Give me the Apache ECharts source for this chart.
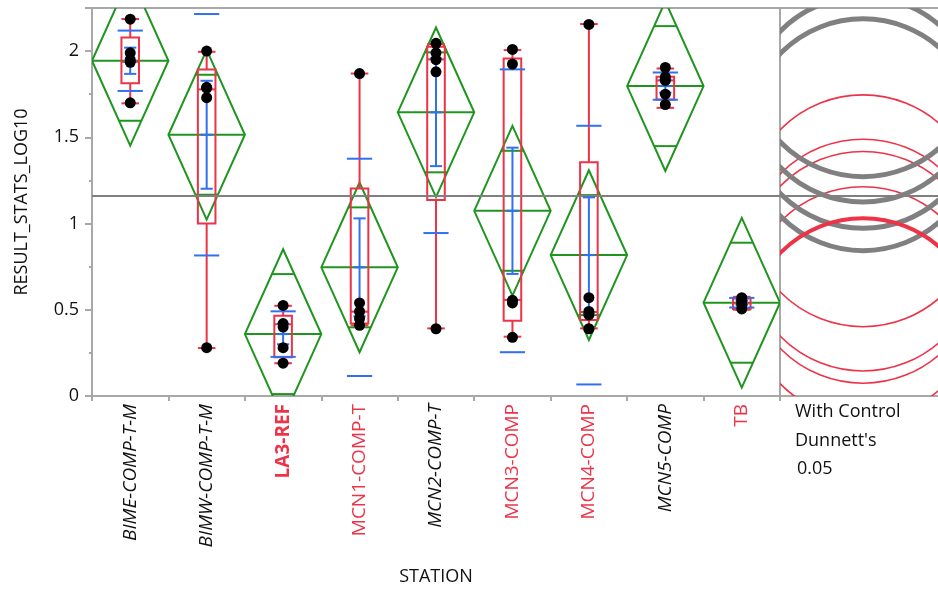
<!DOCTYPE html>
<html><head><meta charset="utf-8">
<script src="https://cdn.jsdelivr.net/npm/echarts@6/dist/echarts.min.js"></script>
<style>html,body{margin:0;padding:0;background:#fff}#c{width:938px;height:591px}</style>
</head><body><div id="c"></div>
<script>
// ---------- data ----------
const stations = ['BIME-COMP-T-M','BIMW-COMP-T-M','LA3-REF','MCN1-COMP-T','MCN2-COMP-T','MCN3-COMP','MCN4-COMP','MCN5-COMP','TB'];
// Dunnett comparison with control: 'control', 'same' (not different), 'diff' (significantly different)
const status = ['diff','diff','control','same','diff','same','same','diff','same'];
const points = [
  [2.185, 1.99, 1.95, 1.935, 1.70],
  [2.00, 1.79, 1.785, 1.73, 0.28],
  [0.525, 0.42, 0.40, 0.28, 0.19],
  [1.87, 0.54, 0.49, 0.45, 0.41],
  [2.045, 1.99, 1.95, 1.88, 0.39],
  [2.01, 1.925, 0.555, 0.54, 0.34],
  [2.155, 0.57, 0.49, 0.47, 0.39],
  [1.905, 1.85, 1.83, 1.75, 1.69],
  [0.57, 0.555, 0.545, 0.53, 0.505]
];
const means   = [1.944, 1.515, 0.359, 0.746, 1.645, 1.074, 0.817, 1.797, 0.541];
const stdDevs = [0.175, 0.700, 0.132, 0.630, 0.700, 0.820, 0.750, 0.079, 0.028];
const stdErrs = [0.076, 0.313, 0.059, 0.284, 0.312, 0.366, 0.335, 0.038, 0.013];
// box plot: [lower whisker, q1, median, q3, upper whisker]
const boxes = [
  [1.697, 1.813, 1.938, 2.079, 2.186],
  [0.278, 1.001, 1.778, 1.893, 1.996],
  [0.190, 0.225, 0.416, 0.466, 0.523],
  [0.410, 0.420, 0.489, 1.204, 1.870],
  [0.392, 1.136, 1.952, 2.025, 2.040],
  [0.344, 0.437, 0.557, 1.957, 2.006],
  [0.392, 0.441, 0.487, 1.355, 2.157],
  [1.671, 1.720, 1.830, 1.851, 1.899],
  [0.500, 0.504, 0.537, 0.566, 0.575]
];
const ciHalf = [0.492, 0.492, 0.492, 0.492, 0.492, 0.492, 0.492, 0.492, 0.492]; // 95% CI of mean (pooled)
const grandMean = 1.161;
const dunnettRadius = 0.672;
const yTicks = [0, 0.5, 1, 1.5, 2];

// ---------- styles ----------
const RED = '#ec3348', GREEN = '#1f951f', BLUE = '#3170f0', GRAY = '#808080', FRAME = '#a8a8a8';
const FONT = 'Open Sans';

const chart = echarts.init(document.getElementById('c'));

function diamondItem(params, api) {
  const i = api.value(0);
  const m = api.value(1), h = api.value(2);
  const c = api.coord([i, m]);
  const bw = api.size([1, 0])[0];
  const hh = api.size([0, h])[1];
  const L = c[0] - bw / 2, R = c[0] + bw / 2;
  const ov = hh / Math.SQRT2;
  const ovHalf = (bw / 2) * (1 - 1 / Math.SQRT2);
  const st = { fill: 'none', stroke: GREEN, lineWidth: 2 };
  return { type: 'group', children: [
    { type: 'polygon', shape: { points: [[L, c[1]], [c[0], c[1] - hh], [R, c[1]], [c[0], c[1] + hh]] }, style: st },
    { type: 'line', shape: { x1: L, y1: c[1], x2: R, y2: c[1] }, style: st },
    { type: 'line', shape: { x1: c[0] - ovHalf, y1: c[1] - ov, x2: c[0] + ovHalf, y2: c[1] - ov }, style: st },
    { type: 'line', shape: { x1: c[0] - ovHalf, y1: c[1] + ov, x2: c[0] + ovHalf, y2: c[1] + ov }, style: st }
  ]};
}

function boxItem(params, api) {
  const i = api.value(0);
  const v = [api.value(1), api.value(2), api.value(3), api.value(4), api.value(5)];
  const p = v.map(x => api.coord([i, x]));
  const bw = api.size([1, 0])[0];
  const hw = bw * 0.115;
  const x = p[0][0];
  const st = { fill: 'none', stroke: RED, lineWidth: 2 };
  return { type: 'group', children: [
    { type: 'line', shape: { x1: x, y1: p[0][1], x2: x, y2: p[1][1] }, style: st },
    { type: 'line', shape: { x1: x, y1: p[3][1], x2: x, y2: p[4][1] }, style: st },
    { type: 'line', shape: { x1: x - hw, y1: p[0][1], x2: x + hw, y2: p[0][1] }, style: st },
    { type: 'line', shape: { x1: x - hw, y1: p[4][1], x2: x + hw, y2: p[4][1] }, style: st },
    { type: 'rect', shape: { x: x - hw, y: p[3][1], width: 2 * hw, height: p[1][1] - p[3][1] }, style: st },
    { type: 'line', shape: { x1: x - hw, y1: p[2][1], x2: x + hw, y2: p[2][1] }, style: st }
  ]};
}

function errItem(params, api) {
  const i = api.value(0);
  const m = api.value(1), sd = api.value(2), se = api.value(3);
  const bw = api.size([1, 0])[0];
  const c = api.coord([i, m]);
  const sdT = api.coord([i, m + sd])[1], sdB = api.coord([i, m - sd])[1];
  const seT = api.coord([i, m + se])[1], seB = api.coord([i, m - se])[1];
  const w1 = bw * 0.165, w2 = bw * 0.08;
  const x = c[0];
  const st = { fill: 'none', stroke: BLUE, lineWidth: 2 };
  return { type: 'group', children: [
    { type: 'line', shape: { x1: x - w1, y1: sdT, x2: x + w1, y2: sdT }, style: st },
    { type: 'line', shape: { x1: x - w1, y1: sdB, x2: x + w1, y2: sdB }, style: st },
    { type: 'line', shape: { x1: x, y1: seT, x2: x, y2: seB }, style: st },
    { type: 'line', shape: { x1: x - w2, y1: seT, x2: x + w2, y2: seT }, style: st },
    { type: 'line', shape: { x1: x - w2, y1: seB, x2: x + w2, y2: seB }, style: st },
    { type: 'line', shape: { x1: x - w2, y1: c[1], x2: x + w2, y2: c[1] }, style: st }
  ]};
}

function circleItem(params, api) {
  const c = api.coord([api.value(0), api.value(1)]);
  const r = api.size([0, dunnettRadius])[1];
  const s = status[api.value(2)];
  let stroke = RED, lw = 1.6;
  if (s === 'diff') { stroke = GRAY; lw = 5; }
  if (s === 'control') { stroke = RED; lw = 4; }
  return { type: 'circle', shape: { cx: c[0], cy: c[1], r: r }, style: { fill: 'none', stroke: stroke, lineWidth: lw } };
}

const labelRich = {
  diff: { color: '#111', fontStyle: 'italic', fontSize: 19, fontFamily: FONT },
  same: { color: RED, fontSize: 19, fontFamily: FONT },
  control: { color: RED, fontWeight: 'bold', fontSize: 19, fontFamily: FONT }
};

const scatterData = [];
points.forEach((arr, i) => arr.forEach(v => scatterData.push([i, v])));

// circle order: red thin first, then gray, then control
const circleOrder = [3, 5, 6, 8, 0, 1, 4, 7, 2];
const circleData = circleOrder.map(i => [0.5, means[i], i]);

const option = {
  animation: false,
  textStyle: { fontFamily: FONT },
  grid: [
    { left: 92, top: 8, width: 688, height: 388, show: true, borderColor: FRAME, borderWidth: 2,
      backgroundColor: 'transparent', outerBoundsMode: 'none', containLabel: false },
    { left: 780, top: 8, width: 166, height: 388, show: true, borderColor: FRAME, borderWidth: 2,
      backgroundColor: 'transparent', outerBoundsMode: 'none', containLabel: false }
  ],
  xAxis: [
    { type: 'category', gridIndex: 0, data: stations, boundaryGap: true,
      axisLine: { show: true, lineStyle: { color: FRAME, width: 2 } },
      axisTick: { show: true, length: 5, lineStyle: { color: FRAME, width: 2 } },
      axisLabel: { rotate: 90, margin: 8, interval: 0, hideOverlap: false,
        formatter: (val, idx) => '{' + status[idx] + '|' + val + '}', rich: labelRich },
      name: 'STATION', nameLocation: 'middle', nameGap: 172,
      nameTextStyle: { fontSize: 18, color: '#111', fontFamily: FONT } },
    { type: 'value', gridIndex: 1, min: 0, max: 1, show: false }
  ],
  yAxis: [
    { type: 'value', gridIndex: 0, min: 0, max: 2.25, interval: 0.5,
      axisLine: { show: true, lineStyle: { color: FRAME, width: 2 } },
      axisTick: { show: true, length: 7, lineStyle: { color: FRAME, width: 2 } },
      minorTick: { show: true, splitNumber: 2, length: 3, lineStyle: { color: FRAME, width: 2 } },
      splitLine: { show: false },
      axisLabel: { fontSize: 18, color: '#111', margin: 13, fontFamily: FONT,
        customValues: yTicks },
      name: 'RESULT_STATS_LOG10', nameLocation: 'middle', nameRotate: 90, nameGap: 61,
      nameTextStyle: { fontSize: 18, color: '#111', fontFamily: FONT } },
    { type: 'value', gridIndex: 1, min: 0, max: 2.25, show: false }
  ],
  series: [
    { type: 'custom', xAxisIndex: 1, yAxisIndex: 1, clip: true, renderItem: circleItem,
      data: circleData, silent: true, z: 2,
      markLine: { silent: true, symbol: 'none', label: { show: false },
        lineStyle: { color: GRAY, width: 2, type: 'solid' }, data: [{ yAxis: grandMean }] } },
    { type: 'custom', xAxisIndex: 0, yAxisIndex: 0, clip: true, renderItem: diamondItem,
      data: means.map((m, i) => [i, m, ciHalf[i]]), silent: true, z: 3,
      markLine: { silent: true, symbol: 'none', label: { show: false },
        lineStyle: { color: GRAY, width: 2, type: 'solid' }, data: [{ yAxis: grandMean }] } },
    { type: 'custom', xAxisIndex: 0, yAxisIndex: 0, clip: true, renderItem: boxItem,
      data: boxes.map((b, i) => [i].concat(b)), silent: true, z: 4 },
    { type: 'custom', xAxisIndex: 0, yAxisIndex: 0, clip: true, renderItem: errItem,
      data: means.map((m, i) => [i, m, stdDevs[i], stdErrs[i]]), silent: true, z: 5 },
    { type: 'scatter', xAxisIndex: 0, yAxisIndex: 0, data: scatterData, symbol: 'circle', symbolSize: 11,
      itemStyle: { color: '#000', opacity: 1 }, silent: true, z: 6 }
  ],
  graphic: [
    { type: 'text', left: 795, top: 403, style: { text: 'With Control', fontSize: 18, fill: '#111', fontFamily: FONT } },
    { type: 'text', left: 795, top: 432, style: { text: "Dunnett's", fontSize: 18, fill: '#111', fontFamily: FONT } },
    { type: 'text', left: 797, top: 460, style: { text: '0.05', fontSize: 18, fill: '#111', fontFamily: FONT } }
  ]
};
chart.setOption(option);
</script>
</body></html>
